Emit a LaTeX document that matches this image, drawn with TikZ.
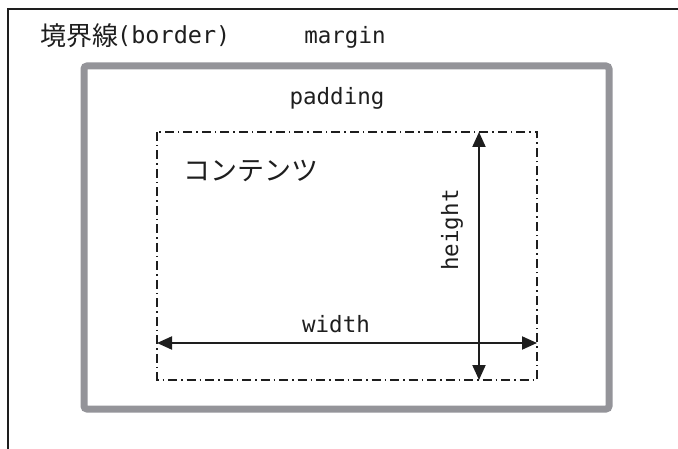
\documentclass[tikz,border=0pt]{standalone}
\usepackage{fontspec}
\usetikzlibrary{arrows.meta}
\newfontfamily\jpfont{Noto Sans CJK JP}
\newfontfamily\latinmono{DejaVu Sans Mono}
\definecolor{bordergray}{RGB}{148,148,153}
\definecolor{ink}{RGB}{30,30,30}
\tikzset{
  frameline/.style={draw=ink, line width=2pt},
  borderbox/.style={draw=bordergray, line width=7pt, rounded corners=3pt},
  contentbox/.style={draw=ink, line width=1.4pt, dash pattern=on 9pt off 4pt on 1.5pt off 4pt},
  dimarrow/.style={draw=ink, line width=2pt, -{Triangle[length=15pt,width=13pt]}, shorten >=0pt},
  monolabel/.style={inner sep=0pt, text=ink, font=\latinmono\fontsize{22.5}{26}\selectfont},
  jplabel/.style={inner sep=0pt, text=ink},
}
\begin{document}
\begin{tikzpicture}[x=1pt, y=-1pt]
\useasboundingbox (0,0) rectangle (678,449);

% outer margin edge (top and left only)
\coordinate (frameTR) at (680,9);
\coordinate (frameTL) at (8,9);
\coordinate (frameBL) at (8,451);
\draw[frameline] (frameTR) -- (frameTL) -- (frameBL);

% border
\coordinate (borderTL) at (84,66);
\coordinate (borderBR) at (609,409);
\draw[borderbox] (borderTL) rectangle (borderBR);

% content area
\coordinate (contentTL) at (157,132);
\coordinate (contentBR) at (537,380);
\draw[contentbox] (contentTL) rectangle (contentBR);

% dimension arrows
\coordinate (hTop) at (479,132);
\coordinate (hBot) at (479,380);
\coordinate (wLeft) at (157,343);
\coordinate (wRight) at (537,343);
\coordinate (hMid) at (479,256);
\coordinate (wMid) at (347,343);
\draw[dimarrow] (hMid) -- (hTop);
\draw[dimarrow] (hMid) -- (hBot);
\draw[dimarrow] (wMid) -- (wLeft);
\draw[dimarrow] (wMid) -- (wRight);

% labels
\node[jplabel, anchor=base west] (title) at (40,45.5)
  {\jpfont\fontsize{26}{30}\selectfont 境界線};
\node[monolabel, anchor=base west, font=\latinmono\fontsize{23.5}{27}\selectfont] (titlelatin) at (117,44) {(border)};
\node[monolabel, anchor=base] (margin) at (345,44) {margin};
\node[monolabel, anchor=base] (padding) at (337,105) {padding};
\node[jplabel, anchor=base west] (content) at (183,181)
  {\jpfont\fontsize{27}{31}\selectfont コンテンツ};
\node[monolabel, anchor=base] (width) at (336,333) {width};
\node[monolabel, rotate=90] (height) at (452,230) {height};
\end{tikzpicture}
\end{document}
